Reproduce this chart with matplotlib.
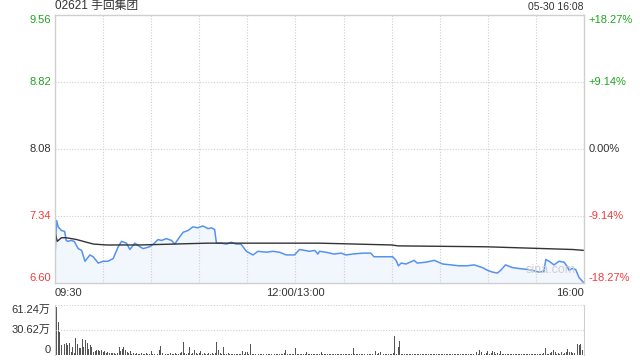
import matplotlib
matplotlib.use("Agg")
import matplotlib.pyplot as plt
import matplotlib.transforms as mtransforms
import numpy as np

plt.rcParams["font.family"] = ["Liberation Sans", "Noto Sans CJK SC", "DejaVu Sans"]

title = "02621 手回集团"
stamp = "05-30 16:08"
prev_close = 8.08

price_ticks = [9.56, 8.82, 8.08, 7.34, 6.60]
pct_labels = ["+18.27%", "+9.14%", "0.00%", "-9.14%", "-18.27%"]
vol_ticks = [61.24, 30.62, 0]
vol_labels = ["61.24万", "30.62万", "0"]
time_labels = ["09:30", "12:00/13:00", "16:00"]
time_pos = [0, 150, 330]

# minutes since 09:30 (lunch break removed) and last price
price_min = [0, 1, 2, 4, 6, 7, 8, 10, 12, 14.5, 16.6, 18.7, 21.8, 23.8, 27, 30, 33, 36.3,
             39.4, 41.5, 44.6, 46.7, 49.8, 53, 55, 59, 62, 64.3, 66.4, 69.5, 72.7, 74.7,
             77.8, 79.9, 83, 86, 89, 92.3, 95.5, 97.6, 99.6, 100.7, 103.8, 107, 110, 113,
             116, 119.4, 123.5, 126.6, 131.8, 136, 140, 144.3, 149.4, 152.5, 155.7, 158.8,
             162, 164, 165, 169, 174, 178.5, 181.6, 185.7, 192, 197, 199, 206.5, 210.6,
             212.8, 214.2, 216, 219, 224, 226, 231.4, 236.6, 241.8, 247, 252, 257, 261.5,
             266.7, 269.8, 273, 276, 278, 281, 285.4, 289.5, 294.7, 297.8, 302, 305, 306.2,
             308.2, 311.3, 314.4, 317.6, 319.6, 320.7, 322.7, 324.8, 326.9, 330]
price = [6.89, 7.29, 7.22, 7.18, 7.17, 7.07, 7.06, 7.07, 7.06, 6.98, 6.96, 6.84, 6.91, 6.89,
         6.82, 6.84, 6.84, 6.87, 7.00, 7.06, 7.04, 6.97, 7.04, 7.00, 6.98, 7.00, 7.04, 7.08,
         7.07, 7.09, 7.07, 7.03, 7.11, 7.16, 7.18, 7.22, 7.21, 7.23, 7.20, 7.21, 7.19, 7.04,
         7.04, 7.03, 7.05, 7.03, 7.03, 6.95, 6.91, 6.95, 6.94, 6.95, 6.94, 6.91, 6.91, 6.97,
         6.96, 6.95, 6.96, 6.92, 6.95, 6.94, 6.92, 6.93, 6.91, 6.92, 6.93, 6.93, 6.89, 6.89,
         6.89, 6.85, 6.79, 6.82, 6.81, 6.85, 6.82, 6.83, 6.85, 6.81, 6.80, 6.79, 6.79, 6.80,
         6.77, 6.74, 6.72, 6.71, 6.74, 6.80, 6.77, 6.76, 6.75, 6.74, 6.72, 6.73, 6.86, 6.84,
         6.80, 6.84, 6.83, 6.78, 6.74, 6.76, 6.75, 6.66, 6.60]

avg_min = [0, 1.4, 4, 7, 13.5, 19.7, 24, 32, 53, 95, 128, 165, 210, 214, 269, 323, 330]
avg_price = [7.16, 7.06, 7.10, 7.10, 7.08, 7.05, 7.03, 7.02, 7.02, 7.04, 7.04, 7.04, 7.02,
             7.01, 7.00, 6.97, 6.96]

# volume per minute, in 万
volume = [
    61.24, 58.4, 40.8, 28.6,
    12.2, 8.6, 13.5, 14.3, 12.2, 15, 4, 10, 2, 21,
    14, 8.6, 8.6, 19, 10, 18, 15, 7, 12, 10,
    4, 5, 6, 6, 5, 6, 4, 4.5, 3, 4, 2.5, 2.5, 3, 2.5, 1.5, 2,
    10, 4.5, 7, 10, 6, 4, 2.5, 4.5, 1.5, 2,
    1, 2, 1.5, 1, 2.5, 1, 1.5, 2, 1, 1.5,
    4.5, 1, 1.5, 2, 1, 6, 11, 2.5, 3.5, 1.5,
    1, 1.5, 2, 1, 1.5, 2.5, 1, 1.5, 2, 3.5,
    16, 2.5, 1.5, 2, 10, 1.5, 2, 6, 2, 1.5,
    2.5, 4.5, 1.5, 2, 1, 1.5, 2.5, 1, 2, 1.5,
    3, 16, 6, 2.5, 1.5, 10, 1.5, 1, 2, 1,
    1, 0.8, 1, 1.2, 0.8, 1, 1.5, 4.5, 1, 3.5,
    3.5, 1, 14, 1, 0.8, 1.2, 1, 0.8, 1, 1.2,
    1, 0.8, 1, 1.2, 0.8, 1, 1, 0.8, 1.2, 1,
    0.8, 1, 1.5, 2.5, 6, 1.5, 1, 0.8, 1, 1.2,
    9, 1.5, 1, 0.8, 1, 1.2, 0.8, 3.5, 1, 0.8,
    1, 1.2, 0.8, 1, 1, 1.2, 3.5, 1, 0.8, 1,
    1.2, 0.8, 1, 1, 0.8, 1.2, 1, 0.8, 1, 1.2,
    1, 0.8, 1, 1.2, 1, 1.5, 8, 1, 0.8, 1,
    1.2, 0.8, 1, 1, 0.8, 1.2, 1, 0.8, 1.5, 1,
    4.5, 1, 3, 3.5, 1, 0.8, 1.2, 1, 0.8, 1,
    1.5, 2, 23, 1.5, 10, 17, 1.5, 1, 0.8, 1,
    1.2, 0.8, 1, 1, 0.8, 1.2, 1, 0.8, 1, 1.2,
    1, 0.8, 1, 1.2, 0.8, 1, 1, 0.8, 1.2, 1,
    0.8, 1, 1.2, 1, 0.8, 1, 1.2, 0.8, 1, 1.5,
    1, 1.5, 0.8, 1, 1.2, 1.5, 1, 1.2, 1.5, 1,
    1.2, 1, 1.5, 3.5, 1.5, 6, 3.5, 1.5, 1, 2,
    4.5, 1.5, 2, 4.5, 3.5, 1.5, 2, 1, 4.5, 1.5,
    1, 1.5, 1.2, 1, 0.8, 1, 1.2, 1, 0.8, 1,
    1.2, 0.8, 1, 1.2, 1, 0.8, 1, 1.2, 1, 1.5,
    1, 1.5, 1.2, 1, 1.5, 2, 9, 1.5, 1, 2,
    3.5, 6, 3.5, 1.5, 2, 1, 3.5, 1.5, 2, 3.5,
    7, 3.5, 3.5, 2, 2.5, 8, 14, 12, 14, 6, 39.5,
]

GREEN = "#1fa51f"
RED = "#f03c3c"
GRID = "#cfcfcf"
TEXT = "#333333"

fig = plt.figure(figsize=(6.4, 3.6), dpi=100)
ax = fig.add_axes([55 / 640, 77 / 360, 529 / 640, 268 / 360])
vax = fig.add_axes([55 / 640, 5 / 360, 529 / 640, 50 / 360])

# price panel
ax.fill_between(price_min, price, price_ticks[-1], color="#e3edfc", alpha=0.45, lw=0)
ax.plot(price_min, price, color="#5592f0", lw=1.1)
ax.plot(avg_min, avg_price, color="#333333", lw=1.0)
ax.set_xlim(0, 330)
ax.set_ylim(price_ticks[-1], price_ticks[0])
ax.set_xticks(np.arange(30, 330, 30))
ax.set_yticks(price_ticks[1:-1])
ax.grid(True, color=GRID, ls=(0, (1, 1.5)), lw=0.8)
ax.tick_params(length=0, labelleft=False, labelbottom=False)
for sp in ax.spines.values():
    sp.set_color(GRID)
    sp.set_linewidth(1)

trans = mtransforms.blended_transform_factory(ax.transAxes, ax.transData)
n = len(price_ticks)
for i, (p, lab) in enumerate(zip(price_ticks, pct_labels)):
    color = GREEN if p > prev_close else (RED if p < prev_close else TEXT)
    va = "top" if i == 0 else ("bottom" if i == n - 1 else "center")
    ax.text(-0.008, p, f"{p:.2f}", transform=trans, ha="right", va=va, fontsize=8, color=color)
    ax.text(1.009, p, lab, transform=trans, ha="left", va=va, fontsize=8, color=color)

for t, lab in zip(time_pos, time_labels):
    ha = "left" if t == 0 else ("right" if t == 330 else "center")
    ax.text(t, -0.02, lab, transform=mtransforms.blended_transform_factory(ax.transData, ax.transAxes),
            ha=ha, va="top", fontsize=8, color=TEXT)

ax.text(0.0, 1.012, title, transform=ax.transAxes, ha="left", va="bottom", fontsize=8.5, color=TEXT)
ax.text(1.0, 1.012, stamp, transform=ax.transAxes, ha="right", va="bottom", fontsize=7.5, color=TEXT)
ax.text(0.985, 0.025, "sina.com", transform=ax.transAxes, ha="right", va="bottom",
        fontsize=9, color="#d0d0d0")

# volume panel
vx = np.arange(len(volume))
vax.bar(vx, volume, width=0.6, color="#555555", lw=0, clip_on=False)
vax.set_xlim(0, 330)
vax.set_ylim(0, vol_ticks[0])
vax.set_xticks([])
vax.set_yticks(vol_ticks[:2])
vax.grid(True, axis="y", color=GRID, ls=(0, (1, 1.5)), lw=0.8)
vax.tick_params(length=0, labelleft=False)
for side in ["top", "bottom"]:
    vax.spines[side].set_visible(False)
for side in ["left", "right"]:
    vax.spines[side].set_color(GRID)

vtrans = mtransforms.blended_transform_factory(vax.transAxes, vax.transData)
for i, (v, lab) in enumerate(zip(vol_ticks, vol_labels)):
    va = "top" if i == 0 else ("bottom" if i == len(vol_ticks) - 1 else "center")
    vax.text(-0.008, v, lab, transform=vtrans, ha="right", va=va, fontsize=8, color=TEXT)

fig.savefig("out.png", dpi=100)
print(len(volume))
